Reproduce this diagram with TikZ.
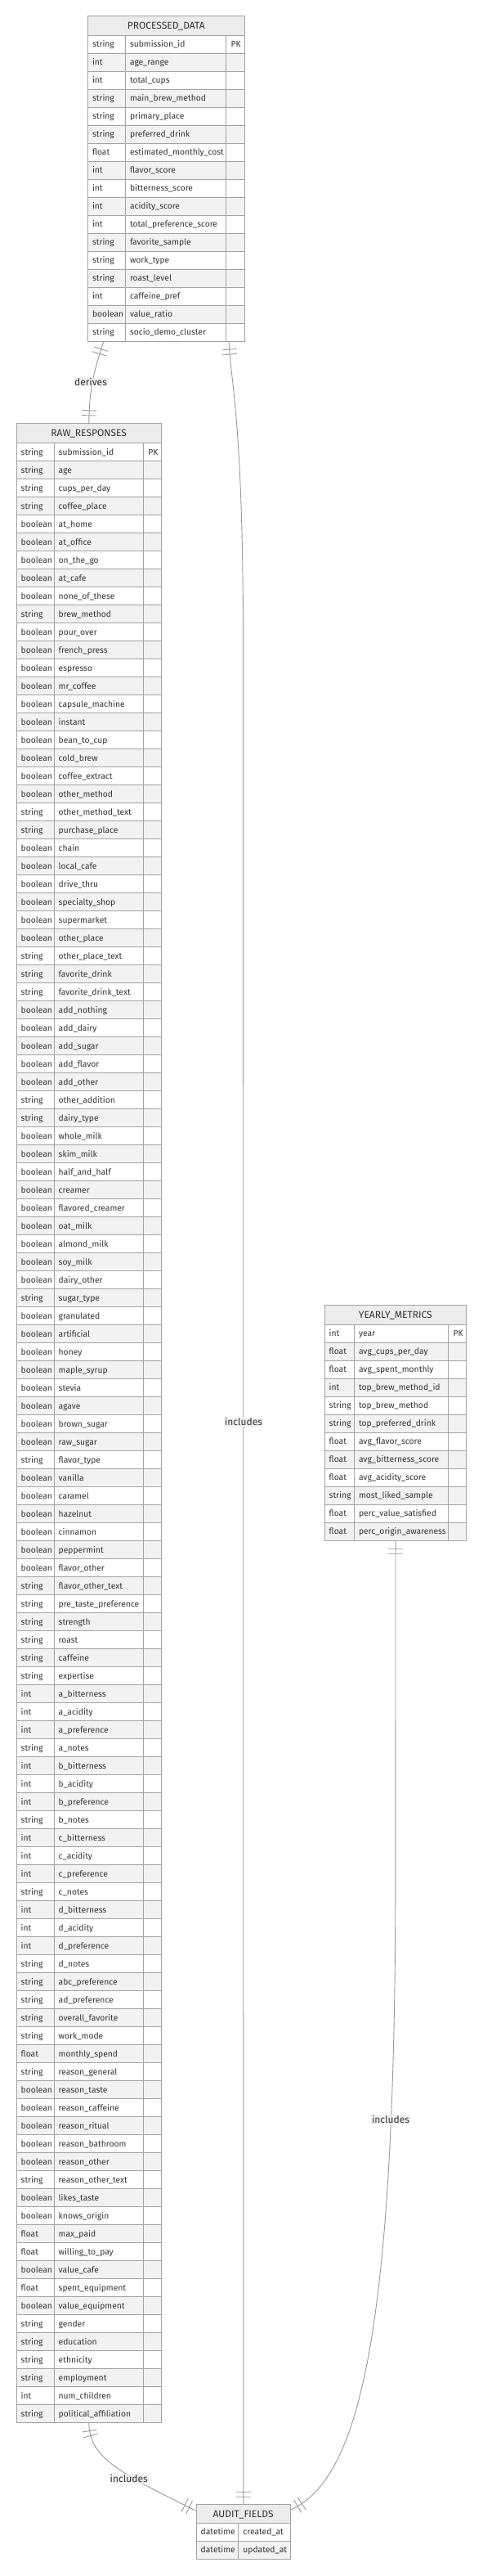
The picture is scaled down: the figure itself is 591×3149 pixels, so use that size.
\documentclass[tikz,border=0pt]{standalone}
\usepackage{fontspec}
\setmainfont{Fira Sans}
\usetikzlibrary{decorations.markings}
\definecolor{bordc}{HTML}{A3A3A3}
\definecolor{linec}{HTML}{9A9A9A}
\definecolor{titlebg}{HTML}{ECECEC}
\definecolor{rowgray}{HTML}{F2F2F2}
\definecolor{txtc}{HTML}{333333}
\definecolor{lblbg}{HTML}{EDEDED}

\newcommand\ertab[9]{%
  \pgfmathsetmacro\tbw{#4+#5+#6}%
  \fill[titlebg] (#2,#3) rectangle ++(\tbw,#7);
  \node[titletext] (#1-title) at (#2+\tbw/2,#3+#7/2) {#8};
  \foreach \ty/\nm/\ky [count=\i] in {#9} {
    \pgfmathsetmacro\ry{#3+#7+(\i-1)*22}
    \ifodd\i\relax \colorlet{rowc}{white}\else\colorlet{rowc}{rowgray}\fi
    \fill[rowc] (#2,\ry) rectangle ++(\tbw,22);
    \draw[tabline] (#2,\ry) -- ++(\tbw,0);
    \node[celltext] (#1-t\i) at (#2+5.5,\ry+11) {\ty};
    \node[celltext] (#1-n\i) at (#2+#4+5.5,\ry+11) {\nm};
    \node[celltext] (#1-k\i) at (#2+#4+#5+5.8,\ry+11) {\ky};
    \xdef\ertabn{\i}
  }
  \pgfmathsetmacro\tbh{#7+\ertabn*22}%
  \draw[tabline] (#2+#4,#3+#7) -- ++(0,\tbh-#7);
  \ifdim #6pt>0pt \draw[tabline] (#2+#4+#5,#3+#7) -- ++(0,\tbh-#7);\fi
  \draw[tabline] (#2,#3) rectangle ++(\tbw,\tbh);
  \node[inner sep=0pt, minimum width=\tbw pt, minimum height=\tbh pt, anchor=north west] (#1) at (#2,#3) {};
}

\begin{document}
\begin{tikzpicture}[x=1pt,y=-1pt,
  celltext/.style={anchor=west, inner sep=0pt, text height=8pt, text depth=1pt, text=txtc, font=\fontsize{10.3}{12}\selectfont},
  titletext/.style={inner sep=0pt, text height=8.8pt, text depth=0.6pt, text=txtc, font=\fontsize{12}{14}\selectfont},
  tabline/.style={draw=bordc, line width=1pt},
  conn/.style={draw=linec, line width=0.9pt},
  lbl/.style={fill=lblbg, fill opacity=0.7, text opacity=1, text=txtc, inner sep=1pt, font=\fontsize{12}{14}\selectfont},
  onebars/.style={postaction={decorate}, decoration={markings,
    mark=at position 9.5pt with {\draw[linec, line width=0.9pt] (0,-9) -- (0,9);},
    mark=at position 15.5pt with {\draw[linec, line width=0.9pt] (0,-9) -- (0,9);},
    mark=at position -9.5pt with {\draw[linec, line width=0.9pt] (0,-9) -- (0,9);},
    mark=at position -15.5pt with {\draw[linec, line width=0.9pt] (0,-9) -- (0,9);}}}
]
\useasboundingbox (0,0) rectangle (591,3149);
\fill[white] (0,0) rectangle (591,3149);

\ertab{pd}{107.3}{19}{46}{123.4}{22.6}{24.3}{PROCESSED\_DATA}{%
string/submission\_id/PK, int/age\_range/{}, int/total\_cups/{}, string/main\_brew\_method/{},
string/primary\_place/{}, string/preferred\_drink/{}, float/estimated\_monthly\_cost/{},
int/flavor\_score/{}, int/bitterness\_score/{}, int/acidity\_score/{}, int/total\_preference\_score/{},
string/favorite\_sample/{}, string/work\_type/{}, string/roast\_level/{}, int/caffeine\_pref/{},
boolean/value\_ratio/{}, string/socio\_demo\_cluster/{}}

\ertab{raw}{20}{517.3}{46}{109.3}{22}{24.4}{RAW\_RESPONSES}{%
string/submission\_id/PK, string/age/{}, string/cups\_per\_day/{}, string/coffee\_place/{},
boolean/at\_home/{}, boolean/at\_office/{}, boolean/on\_the\_go/{}, boolean/at\_cafe/{},
boolean/none\_of\_these/{}, string/brew\_method/{}, boolean/pour\_over/{}, boolean/french\_press/{},
boolean/espresso/{}, boolean/mr\_coffee/{}, boolean/capsule\_machine/{}, boolean/instant/{},
boolean/bean\_to\_cup/{}, boolean/cold\_brew/{}, boolean/coffee\_extract/{}, boolean/other\_method/{},
string/other\_method\_text/{}, string/purchase\_place/{}, boolean/chain/{}, boolean/local\_cafe/{},
boolean/drive\_thru/{}, boolean/specialty\_shop/{}, boolean/supermarket/{}, boolean/other\_place/{},
string/other\_place\_text/{}, string/favorite\_drink/{}, string/favorite\_drink\_text/{},
boolean/add\_nothing/{}, boolean/add\_dairy/{}, boolean/add\_sugar/{}, boolean/add\_flavor/{},
boolean/add\_other/{}, string/other\_addition/{}, string/dairy\_type/{}, boolean/whole\_milk/{},
boolean/skim\_milk/{}, boolean/half\_and\_half/{}, boolean/creamer/{}, boolean/flavored\_creamer/{},
boolean/oat\_milk/{}, boolean/almond\_milk/{}, boolean/soy\_milk/{}, boolean/dairy\_other/{},
string/sugar\_type/{}, boolean/granulated/{}, boolean/artificial/{}, boolean/honey/{},
boolean/maple\_syrup/{}, boolean/stevia/{}, boolean/agave/{}, boolean/brown\_sugar/{},
boolean/raw\_sugar/{}, string/flavor\_type/{}, boolean/vanilla/{}, boolean/caramel/{},
boolean/hazelnut/{}, boolean/cinnamon/{}, boolean/peppermint/{}, boolean/flavor\_other/{},
string/flavor\_other\_text/{}, string/pre\_taste\_preference/{}, string/strength/{}, string/roast/{},
string/caffeine/{}, string/expertise/{}, int/a\_bitterness/{}, int/a\_acidity/{}, int/a\_preference/{},
string/a\_notes/{}, int/b\_bitterness/{}, int/b\_acidity/{}, int/b\_preference/{}, string/b\_notes/{},
int/c\_bitterness/{}, int/c\_acidity/{}, int/c\_preference/{}, string/c\_notes/{},
int/d\_bitterness/{}, int/d\_acidity/{}, int/d\_preference/{}, string/d\_notes/{},
string/abc\_preference/{}, string/ad\_preference/{}, string/overall\_favorite/{}, string/work\_mode/{},
float/monthly\_spend/{}, string/reason\_general/{}, boolean/reason\_taste/{}, boolean/reason\_caffeine/{},
boolean/reason\_ritual/{}, boolean/reason\_bathroom/{}, boolean/reason\_other/{},
string/reason\_other\_text/{}, boolean/likes\_taste/{}, boolean/knows\_origin/{}, float/max\_paid/{},
float/willing\_to\_pay/{}, boolean/value\_cafe/{}, float/spent\_equipment/{}, boolean/value\_equipment/{},
string/gender/{}, string/education/{}, string/ethnicity/{}, string/employment/{}, int/num\_children/{},
string/political\_affiliation/{}}

\ertab{ym}{397}{1595}{36.3}{115.4}{22}{24.3}{YEARLY\_METRICS}{%
int/year/PK, float/avg\_cups\_per\_day/{}, float/avg\_spent\_monthly/{}, int/top\_brew\_method\_id/{},
string/top\_brew\_method/{}, string/top\_preferred\_drink/{}, float/avg\_flavor\_score/{},
float/avg\_bitterness\_score/{}, float/avg\_acidity\_score/{}, string/most\_liked\_sample/{},
float/perc\_value\_satisfied/{}, float/perc\_origin\_awareness/{}}

\ertab{af}{240}{3061.7}{51.7}{63.6}{0}{22.6}{AUDIT\_FIELDS}{%
datetime/created\_at/{}, datetime/updated\_at/{}}

% connector end points
\coordinate (pdL) at ([xshift=19.4pt]pd.south west);
\coordinate (pdR) at ([xshift=172.7pt]pd.south west);
\coordinate (afL) at ([yshift=-7.6pt]af.north west);
\coordinate (afR) at ([yshift=-6.3pt]af.north east);
\coordinate (mb) at (297.65,800);
\coordinate (yb) at (483.85,2300);

\draw[conn, onebars] (pdL) .. controls +(-8.7,27.7) and +(0,-47.3) .. (raw.north);
\draw[conn, onebars] (pdR) .. controls +(4,63) and +(0,-280) .. (mb) -- (af.north);
\draw[conn, onebars] (raw.south) .. controls +(0,43) and +(-90,-44.5) .. (afL);
\draw[conn, onebars] (ym.south) -- (yb) .. controls +(0,550) and +(84.7,-38) .. (afR);

\node[lbl] (l1) at (111,466.7) {derives};
\node[lbl] (l2) at (298,1738.3) {includes};
\node[lbl] (l3) at (157.7,3030) {includes};
\node[lbl] (l4) at (478,2591) {includes};
\end{tikzpicture}
\end{document}
